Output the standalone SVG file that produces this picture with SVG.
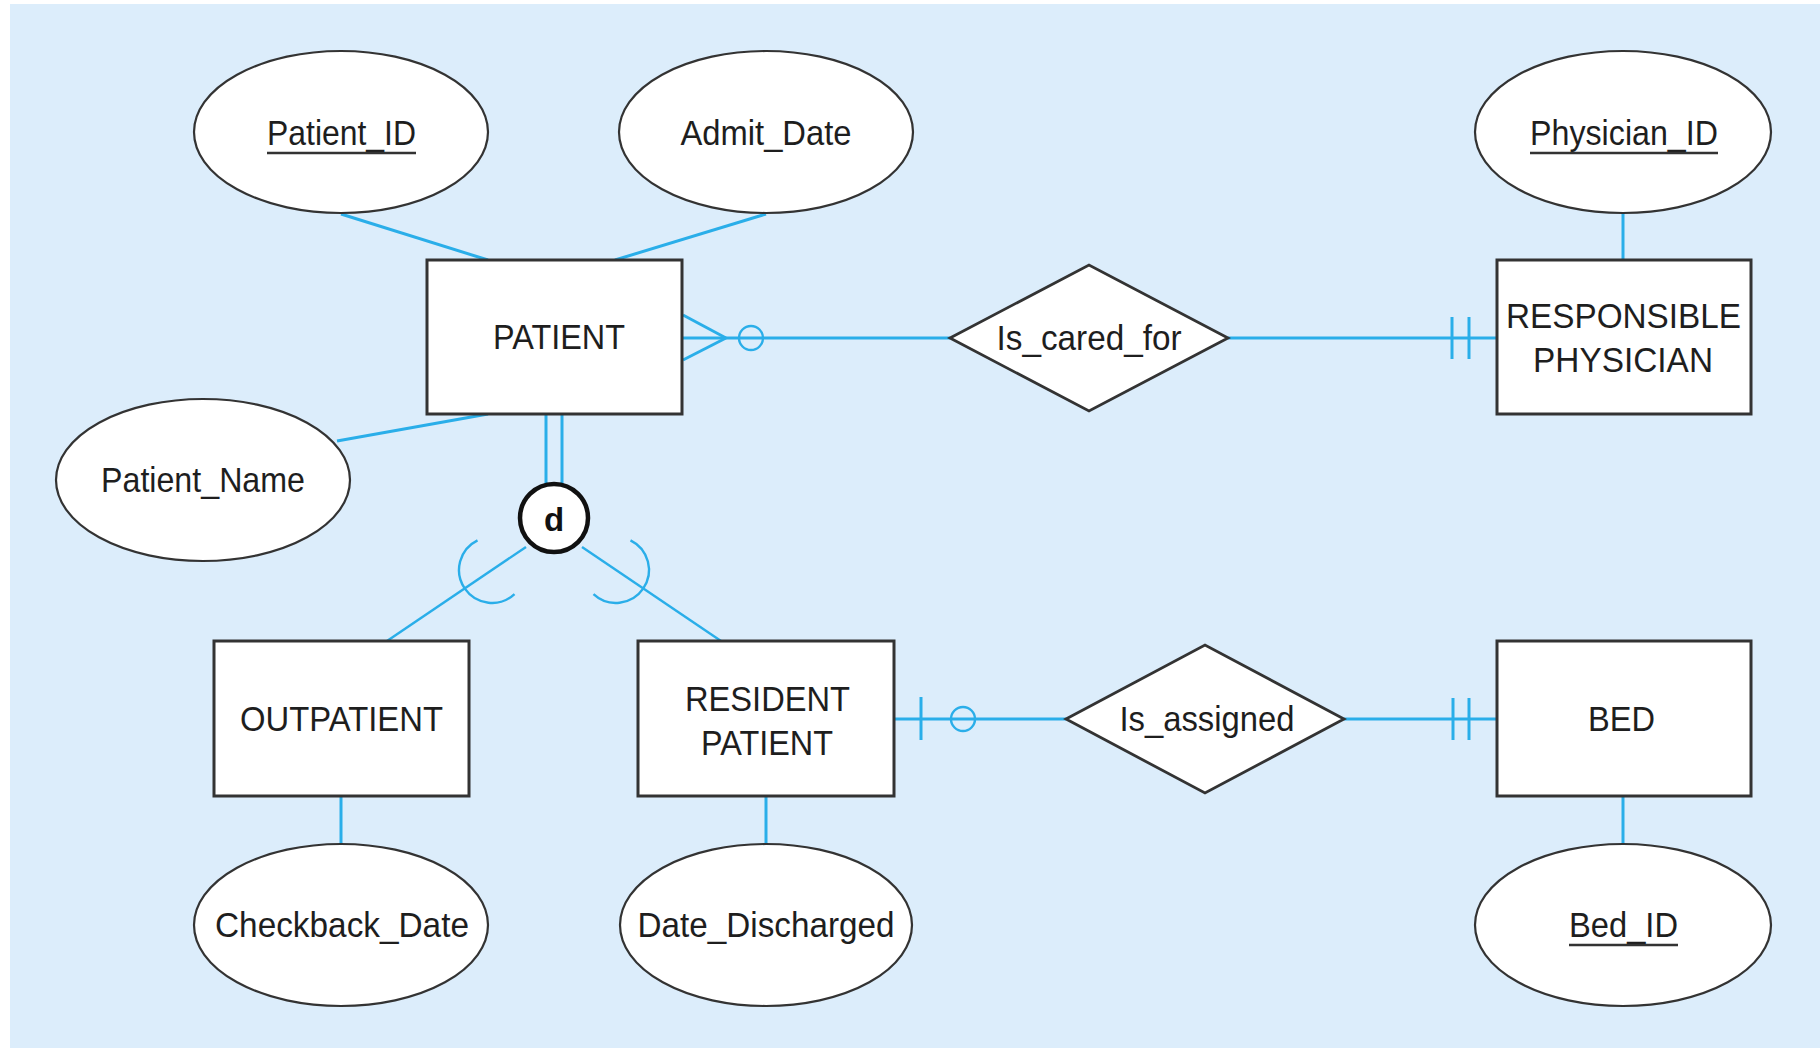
<svg xmlns="http://www.w3.org/2000/svg" width="1820" height="1048" viewBox="0 0 1820 1048">
<defs>
<style>
.bg{fill:#dcedfb}
.ent{fill:#fff;stroke:#333;stroke-width:3}
.att{fill:#fff;stroke:#333;stroke-width:2.2}
.rel{fill:#fff;stroke:#333;stroke-width:2.8;stroke-linejoin:miter}
.t{font-family:"Liberation Sans",Arial,sans-serif;font-size:35px;fill:#1e1e1e;text-anchor:middle}
.ul{stroke:#333;stroke-width:2.5}
.c{stroke:#2aaee9;stroke-width:3;fill:none}
.cs{stroke:#2aaee9;stroke-width:2.4;fill:none}
.sub{stroke:#2aaee9;stroke-width:2.4;fill:none}
</style>
</defs>
<rect class="bg" x="10" y="4" width="1810" height="1044"/>

<g id="connectors">
  <line class="c" x1="341" y1="214" x2="488" y2="260"/>
  <line class="c" x1="766" y1="214" x2="615" y2="260"/>
  <line class="c" x1="337" y1="441" x2="488" y2="414"/>
  <line class="c" x1="1623" y1="214" x2="1623" y2="260"/>
  <line class="c" x1="341" y1="796" x2="341" y2="844"/>
  <line class="c" x1="766" y1="796" x2="766" y2="844"/>
  <line class="c" x1="1623" y1="796" x2="1623" y2="844"/>
  <!-- PATIENT - Is_cared_for -->
  <line class="c" x1="682" y1="338" x2="950" y2="338"/>
  <line class="c" x1="683" y1="315" x2="726" y2="338"/>
  <line class="c" x1="683" y1="360" x2="726" y2="338"/>
  <circle class="cs" cx="751" cy="338" r="12"/>
  <!-- Is_cared_for - RESPONSIBLE PHYSICIAN -->
  <line class="c" x1="1228" y1="338" x2="1497" y2="338"/>
  <line class="c" x1="1452" y1="317" x2="1452" y2="359"/>
  <line class="c" x1="1469" y1="317" x2="1469" y2="359"/>
  <!-- RESIDENT PATIENT - Is_assigned -->
  <line class="c" x1="895" y1="719" x2="1066" y2="719"/>
  <line class="c" x1="921" y1="697" x2="921" y2="740"/>
  <circle class="cs" cx="963" cy="719" r="12"/>
  <!-- Is_assigned - BED -->
  <line class="c" x1="1344" y1="719" x2="1497" y2="719"/>
  <line class="c" x1="1453" y1="698" x2="1453" y2="740"/>
  <line class="c" x1="1469" y1="698" x2="1469" y2="740"/>
  <!-- PATIENT - d (total specialization) -->
  <line class="c" x1="546" y1="414" x2="546" y2="486"/>
  <line class="c" x1="562" y1="414" x2="562" y2="486"/>
  <!-- d - subtypes -->
  <line class="sub" x1="526" y1="547" x2="387" y2="641"/>
  <line class="sub" x1="582" y1="547" x2="721" y2="641"/>
  <path class="sub" d="M 477.5 540.3 A 33 33 0 1 0 514.5 594.1"/>
  <path class="sub" d="M 630.5 540.3 A 33 33 0 1 1 593.5 594.1"/>
</g>

<g id="attr-patient-id">
  <ellipse class="att" cx="341" cy="132" rx="147" ry="81"/>
  <text class="t" x="341.5" y="145" textLength="149" lengthAdjust="spacingAndGlyphs">Patient_ID</text>
  <line class="ul" x1="267" y1="153" x2="416" y2="153"/>
</g>
<g id="attr-admit-date">
  <ellipse class="att" cx="766" cy="132" rx="147" ry="81"/>
  <text class="t" x="766" y="145" textLength="171" lengthAdjust="spacingAndGlyphs">Admit_Date</text>
</g>
<g id="attr-physician-id">
  <ellipse class="att" cx="1623" cy="132" rx="148" ry="81"/>
  <text class="t" x="1624" y="145" textLength="188" lengthAdjust="spacingAndGlyphs">Physician_ID</text>
  <line class="ul" x1="1530" y1="153" x2="1718" y2="153"/>
</g>
<g id="attr-patient-name">
  <ellipse class="att" cx="203" cy="480" rx="147" ry="81"/>
  <text class="t" x="203" y="492" textLength="204" lengthAdjust="spacingAndGlyphs">Patient_Name</text>
</g>
<g id="attr-checkback-date">
  <ellipse class="att" cx="341" cy="925" rx="147" ry="81"/>
  <text class="t" x="342" y="937" textLength="254" lengthAdjust="spacingAndGlyphs">Checkback_Date</text>
</g>
<g id="attr-date-discharged">
  <ellipse class="att" cx="766" cy="925" rx="146" ry="81"/>
  <text class="t" x="766" y="937" textLength="257" lengthAdjust="spacingAndGlyphs">Date_Discharged</text>
</g>
<g id="attr-bed-id">
  <ellipse class="att" cx="1623" cy="925" rx="148" ry="81"/>
  <text class="t" x="1623.5" y="937" textLength="109" lengthAdjust="spacingAndGlyphs">Bed_ID</text>
  <line class="ul" x1="1569" y1="945" x2="1678" y2="945"/>
</g>

<g id="entity-patient">
  <rect class="ent" x="427" y="260" width="255" height="154"/>
  <text class="t" x="559" y="349" textLength="132" lengthAdjust="spacingAndGlyphs">PATIENT</text>
</g>
<g id="entity-responsible-physician">
  <rect class="ent" x="1497" y="260" width="254" height="154"/>
  <text class="t" x="1623.5" y="328" textLength="235" lengthAdjust="spacingAndGlyphs">RESPONSIBLE</text>
  <text class="t" x="1623" y="372" textLength="180" lengthAdjust="spacingAndGlyphs">PHYSICIAN</text>
</g>
<g id="entity-outpatient">
  <rect class="ent" x="214" y="641" width="255" height="155"/>
  <text class="t" x="341.5" y="731" textLength="203" lengthAdjust="spacingAndGlyphs">OUTPATIENT</text>
</g>
<g id="entity-resident-patient">
  <rect class="ent" x="638" y="641" width="256" height="155"/>
  <text class="t" x="767.5" y="711" textLength="165" lengthAdjust="spacingAndGlyphs">RESIDENT</text>
  <text class="t" x="767" y="755" textLength="132" lengthAdjust="spacingAndGlyphs">PATIENT</text>
</g>
<g id="entity-bed">
  <rect class="ent" x="1497" y="641" width="254" height="155"/>
  <text class="t" x="1621.5" y="731" textLength="67" lengthAdjust="spacingAndGlyphs">BED</text>
</g>

<g id="rel-is-cared-for">
  <polygon class="rel" points="950,338 1089,265 1228,338 1089,411"/>
  <text class="t" x="1089" y="350" textLength="185" lengthAdjust="spacingAndGlyphs">Is_cared_for</text>
</g>
<g id="rel-is-assigned">
  <polygon class="rel" points="1066,719 1205,645 1344,719 1205,793"/>
  <text class="t" x="1207" y="731" textLength="175" lengthAdjust="spacingAndGlyphs">Is_assigned</text>
</g>

<g id="specialization-d">
  <circle cx="554" cy="518" r="34" fill="#fff" stroke="#111" stroke-width="4.5"/>
  <text x="554" y="531" font-family="'Liberation Sans',Arial,sans-serif" font-size="33" font-weight="bold" fill="#111" text-anchor="middle">d</text>
</g>
</svg>
